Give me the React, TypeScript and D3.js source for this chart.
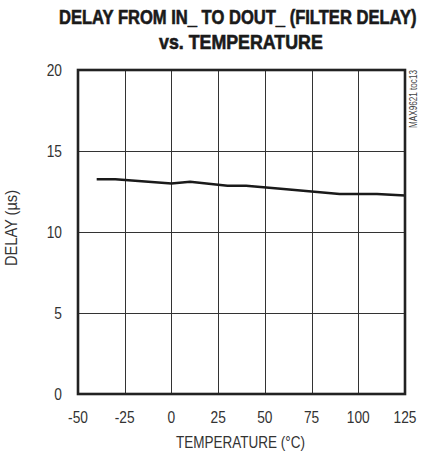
import React, { useEffect, useRef } from "react";
import * as d3 from "d3";

const temps = [-40, -30, 0, 10, 30, 40, 60, 90, 110, 125];
const delays = [13.25, 13.25, 13.0, 13.1, 12.85, 12.85, 12.65, 12.35, 12.35, 12.25];
const xTicks = [-50, -25, 0, 25, 50, 75, 100, 125];
const yTicks = [0, 5, 10, 15, 20];

const W = 424, H = 457;
const FONT = "'Liberation Sans', Arial, sans-serif";
const SX = 0.86; // horizontal squeeze to mimic a condensed face

export default function App() {
  const svgRef = useRef<SVGSVGElement>(null);

  useEffect(() => {
    const svg = d3.select(svgRef.current);
    svg.selectAll("*").remove();

    const margin = { left: 78, right: 19, top: 70, bottom: 63 };
    const x = d3.scaleLinear().domain([-50, 125]).range([margin.left, W - margin.right]);
    const y = d3.scaleLinear().domain([0, 20]).range([H - margin.bottom, margin.top]);

    // squeeze a text horizontally so it spans `width` px starting at (x0, y0)
    const fitText = (sel: d3.Selection<SVGTextElement, unknown, null, undefined>, x0: number, y0: number, width: number) => {
      const natural = sel.node()!.getComputedTextLength() || width;
      sel.attr("transform", `translate(${x0},${y0}) scale(${width / natural},1)`);
    };

    // title
    const title = svg.append("g")
      .attr("font-family", FONT)
      .attr("font-weight", "bold")
      .attr("font-size", 19.5)
      .attr("fill", "#1a1a1a")
      .attr("stroke", "#1a1a1a")
      .attr("stroke-width", 0.6);
    fitText(title.append("text").text("DELAY FROM IN_ TO DOUT_ (FILTER DELAY)") as any, 59, 24, 358);
    fitText(title.append("text").text("vs. TEMPERATURE") as any, 159, 49, 164);

    // grid
    svg.append("g")
      .selectAll("line")
      .data(xTicks.slice(1, -1))
      .join("line")
      .attr("x1", d => Math.round(x(d)) + 0.5)
      .attr("x2", d => Math.round(x(d)) + 0.5)
      .attr("y1", y(20))
      .attr("y2", y(0))
      .attr("stroke", "#333")
      .attr("stroke-width", 1);

    svg.append("g")
      .selectAll("line")
      .data(yTicks.slice(1, -1))
      .join("line")
      .attr("y1", d => Math.round(y(d)) + 0.5)
      .attr("y2", d => Math.round(y(d)) + 0.5)
      .attr("x1", x(-50))
      .attr("x2", x(125))
      .attr("stroke", "#333")
      .attr("stroke-width", 1);

    // data line
    const line = d3.line<number>()
      .x((_, i) => x(temps[i]))
      .y(d => y(d));
    svg.append("path")
      .datum(delays)
      .attr("d", line)
      .attr("fill", "none")
      .attr("stroke", "#1a1a1a")
      .attr("stroke-width", 2.5);

    // frame
    svg.append("rect")
      .attr("x", x(-50))
      .attr("y", y(20))
      .attr("width", x(125) - x(-50))
      .attr("height", y(0) - y(20))
      .attr("fill", "none")
      .attr("stroke", "#222")
      .attr("stroke-width", 2.6);

    // tick labels
    svg.append("g")
      .selectAll("text")
      .data(yTicks)
      .join("text")
      .attr("transform", d => `translate(62,${y(d) + 6}) scale(${SX},1)`)
      .attr("text-anchor", "end")
      .attr("font-family", FONT)
      .attr("font-size", 16)
      .attr("fill", "#333")
      .text(d => d);

    svg.append("g")
      .selectAll("text")
      .data(xTicks)
      .join("text")
      .attr("transform", d => `translate(${x(d)},423) scale(${SX},1)`)
      .attr("text-anchor", "middle")
      .attr("font-family", FONT)
      .attr("font-size", 16)
      .attr("fill", "#333")
      .text(d => d);

    // axis titles
    svg.append("text")
      .attr("x", 176)
      .attr("y", 448)
      .attr("textLength", 129)
      .attr("lengthAdjust", "spacingAndGlyphs")
      .attr("font-family", FONT)
      .attr("font-size", 16)
      .attr("fill", "#333")
      .text("TEMPERATURE (°C)");

    svg.append("text")
      .attr("transform", `translate(17,266) rotate(-90)`)
      .attr("textLength", 76)
      .attr("lengthAdjust", "spacingAndGlyphs")
      .attr("font-family", FONT)
      .attr("font-size", 16)
      .attr("fill", "#333")
      .text("DELAY (µs)");

    svg.append("text")
      .attr("transform", `translate(417,128) rotate(-90)`)
      .attr("textLength", 58)
      .attr("lengthAdjust", "spacingAndGlyphs")
      .attr("font-family", FONT)
      .attr("font-size", 10)
      .attr("fill", "#444")
      .text("MAX9621 toc13");
  }, []);

  return (
    <svg
      ref={svgRef}
      width={W}
      height={H}
      style={{ position: "absolute", left: 0, top: 0, background: "#fff" }}
    />
  );
}
